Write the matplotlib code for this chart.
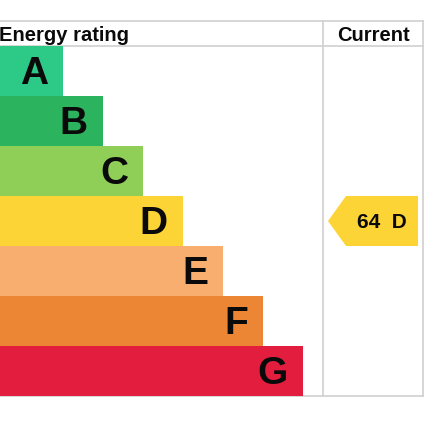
import matplotlib
matplotlib.use("Agg")
import matplotlib.pyplot as plt
from matplotlib.patches import Polygon

plt.rcParams['font.family'] = ['Liberation Sans', 'DejaVu Sans']

# Data
bands = ['A', 'B', 'C', 'D', 'E', 'F', 'G']
band_colors = ['#2dc987', '#2cb35e', '#8fcf58', '#fcd436', '#f7ae6e', '#ec8534', '#e31d3e']
current_score = 64
current_band = 'D'
header_left = 'Energy rating'
header_right = 'Current'

fig = plt.figure(figsize=(4.24, 4.24), dpi=100)
ax = fig.add_axes([0, 0, 1, 1])
ax.set_xlim(0, 424)
ax.set_ylim(424, 0)
ax.axis('off')

top = 46
row_h = 50
first_len = 63
step = 40
col_x = 323
right_x = 423
grid_c = '#d0d0d0'

centers = [top + row_h / 2 + i * row_h for i in range(len(bands))]
lengths = [first_len + step * i for i in range(len(bands))]
ax.barh(centers, lengths, height=row_h, left=0, color=band_colors, edgecolor='none', zorder=2)

for c, L, b in zip(centers, lengths, bands):
    ax.text(L - 15, c + 13.5, b, ha='right', va='baseline', fontsize=28,
            fontweight='bold', color='#0a0a0a', zorder=3)

bottom = top + row_h * len(bands)
# grid lines
ax.plot([0, 424], [21, 21], color=grid_c, lw=1.2, zorder=1)
ax.plot([0, 424], [top, top], color=grid_c, lw=1.2, zorder=1)
ax.plot([0, 424], [bottom, bottom], color=grid_c, lw=1.2, zorder=1)
ax.plot([col_x, col_x], [21, bottom], color=grid_c, lw=1.2, zorder=1)
ax.plot([right_x, right_x], [21, bottom], color=grid_c, lw=1.2, zorder=1)

# headers
ax.text(-1, 41, header_left, ha='left', va='baseline', fontsize=14.5, fontweight='bold', color='#0a0a0a')
ax.text((col_x + right_x) / 2, 41, header_right, ha='center', va='baseline', fontsize=14.5,
        fontweight='bold', color='#0a0a0a')

# current arrow
idx = bands.index(current_band)
cy = centers[idx]
y0, y1 = cy - row_h / 2, cy + row_h / 2
arrow = Polygon([(328, cy), (346, y0), (418, y0), (418, y1), (346, y1)], closed=True,
                facecolor=band_colors[idx], edgecolor='none', zorder=2)
ax.add_patch(arrow)
ax.text(381.5, cy + 7.5, f'{current_score}  {current_band}', ha='center', va='baseline',
        fontsize=15, fontweight='bold', color='#0a0a0a', zorder=3)

fig.savefig('out.png', dpi=100)
